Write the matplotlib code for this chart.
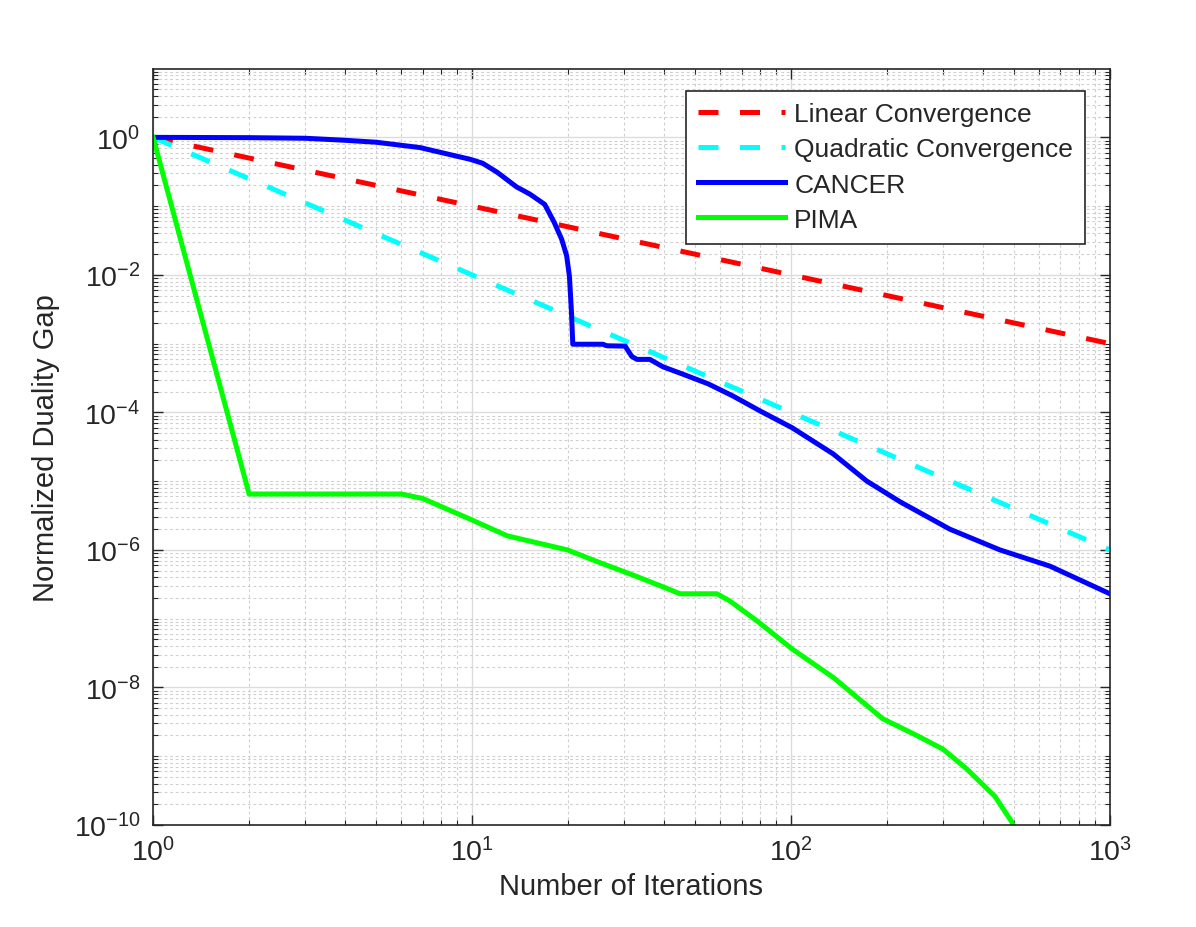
import numpy as np
import matplotlib
matplotlib.use("Agg")
import matplotlib.pyplot as plt
from matplotlib.ticker import FixedLocator, FuncFormatter, NullFormatter

plt.rcParams['font.family'] = ['Liberation Sans', 'DejaVu Sans']
plt.rcParams['mathtext.fontset'] = 'custom'
plt.rcParams['mathtext.rm'] = 'Liberation Sans'

# reference rates (1/k and 1/k^2), endpoints
lin_x = [1, 1000]
lin_y = [1, 1e-3]
quad_x = [1, 1000]
quad_y = [1, 1e-6]

# CANCER curve
cancer_x = [1, 2, 3, 3.94, 5, 6.87, 7.9, 9.86, 10.8, 12, 13.8, 15.2, 16.9, 18.1,
            19.1, 19.8, 20.2, 20.5, 20.7, 25.7, 26.5, 30.2, 31.7, 32.9, 36.1,
            39.7, 45.8, 55, 65.8, 80, 100.7, 135.5, 173, 220, 315, 452, 649, 1000]
cancer_y = [1, 0.99, 0.97, 0.91, 0.85, 0.71, 0.61, 0.48, 0.42, 0.31, 0.19, 0.149,
            0.106, 0.058, 0.033, 0.019, 0.0096, 0.0029, 0.00098, 0.00098, 0.00093,
            0.00092, 0.00065, 0.00059, 0.00059, 0.00046, 0.00036, 0.00026, 0.000173,
            0.000105, 6e-5, 2.5e-5, 1e-5, 5e-6, 2e-6, 1e-6, 5.8e-7, 2.3e-7]

# PIMA curve
pima_x = [1, 2, 6, 7, 9.86, 12.9, 19.9, 25, 32, 39.7, 44.9,
          58.6, 64.4, 78.2, 101, 135.6, 194, 248, 300, 356, 436, 493, 520]
pima_y = [1, 6.5e-6, 6.5e-6, 5.6e-6, 2.8e-6, 1.6e-6, 1.0e-6, 6.6e-7, 4.3e-7,
          2.9e-7, 2.3e-7, 2.3e-7, 1.8e-7, 9.3e-8, 3.6e-8,
          1.4e-8, 3.5e-9, 2e-9, 1.26e-9, 6.5e-10, 2.6e-10, 1.1e-10, 5e-11]

txt = '#262626'

fig = plt.figure(figsize=(11.96, 9.28), dpi=100)
ax = fig.add_axes([0.128, 0.110, 0.800, 0.815])

ax.loglog(lin_x, lin_y, color='#ff0000', lw=3.6, dashes=(4, 4.3), label='Linear Convergence')
ax.loglog(quad_x, quad_y, color='#00ffff', lw=3.6, dashes=(4, 4.3), label='Quadratic Convergence')
ax.loglog(cancer_x, cancer_y, color='#0000ff', lw=3.6, label='CANCER')
ax.loglog(pima_x, pima_y, color='#00ff00', lw=3.6, label='PIMA')

ax.set_xlim(1, 1000)
ax.set_ylim(1e-10, 1e1)

# ticks
ax.xaxis.set_major_locator(FixedLocator([1, 10, 100, 1000]))
ax.yaxis.set_major_locator(FixedLocator([1e-10, 1e-8, 1e-6, 1e-4, 1e-2, 1e0]))
x_minor = [m * 10.0 ** k for k in range(0, 3) for m in range(2, 10)]
y_minor = [m * 10.0 ** k for k in range(-10, 1) for m in range(1, 10)]
ax.xaxis.set_minor_locator(FixedLocator(x_minor))
ax.yaxis.set_minor_locator(FixedLocator(y_minor))
fmt = FuncFormatter(lambda v, p: r'$\mathregular{10^{%d}}$' % round(np.log10(v)))
ax.xaxis.set_major_formatter(fmt)
ax.yaxis.set_major_formatter(fmt)
ax.xaxis.set_minor_formatter(NullFormatter())
ax.yaxis.set_minor_formatter(NullFormatter())

ax.tick_params(which='both', direction='in', top=True, right=True, colors=txt,
               labelsize=20.5)
ax.tick_params(which='major', length=7, width=1.0, pad=9)
ax.tick_params(which='minor', length=3.5, width=0.8)

ax.grid(which='major', color='#dcdcdc', lw=1.0, ls='-')
ax.grid(which='minor', color='#cfcfcf', lw=0.8, ls=(0, (2.5, 2.5)))
ax.set_axisbelow(True)
for s in ax.spines.values():
    s.set_color(txt)
    s.set_linewidth(1.2)

ax.set_xlabel('Number of Iterations', fontsize=21, color=txt, labelpad=4)
ax.set_ylabel('Normalized Duality Gap', fontsize=21, color=txt, labelpad=10)

leg = ax.legend(loc='upper right', bbox_to_anchor=(0.974, 0.971), fontsize=19,
                handlelength=3.3, handletextpad=0.35, labelspacing=0.42,
                borderpad=0.45, borderaxespad=0, fancybox=False, framealpha=1,
                edgecolor='#262626')
leg.get_frame().set_linewidth(1.2)
for t in leg.get_texts():
    t.set_color(txt)

fig.savefig('out.png', dpi=100)
